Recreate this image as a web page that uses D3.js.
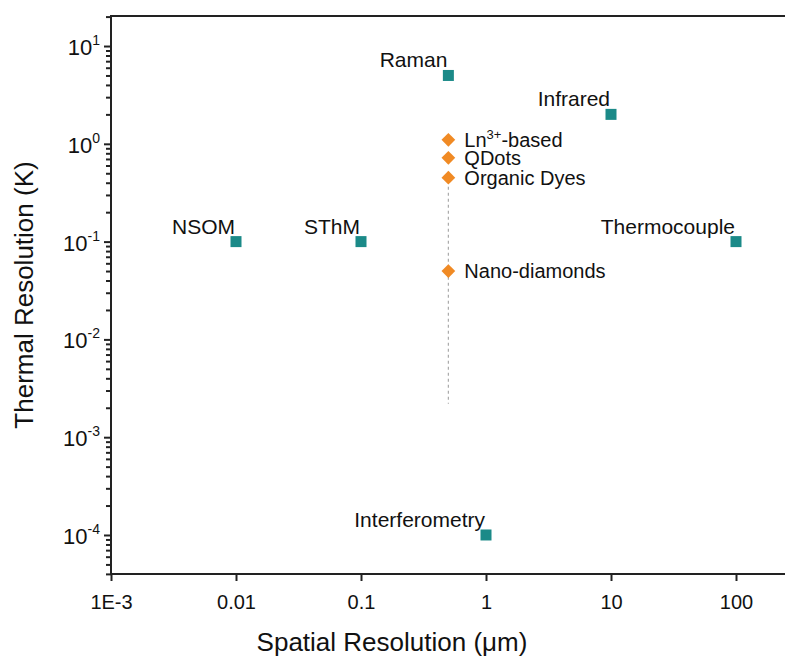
<!DOCTYPE html>
<html>
<head>
<meta charset="utf-8">
<script src="https://cdn.jsdelivr.net/npm/d3@7"></script>
<style>
  html, body { margin: 0; padding: 0; background: #fff; overflow: hidden; }
  svg { display: block; font-family: "Liberation Sans", Arial, Helvetica, sans-serif; }
</style>
</head>
<body>
<svg id="chart" width="785" height="657"></svg>
<script>
// ---- data ----
const techniques = ["Raman", "Infrared", "NSOM", "SThM", "Thermocouple", "Interferometry"];
const techSpatial = [0.5, 10, 0.01, 0.1, 100, 1];
const techThermal = [5, 2, 0.1, 0.1, 0.1, 0.0001];

const probes = ["Ln3+-based", "QDots", "Organic Dyes", "Nano-diamonds"];
const probeSpatial = [0.5, 0.5, 0.5, 0.5];
const probeThermal = [1.1, 0.72, 0.45, 0.05];

const dashSpatial = 0.5;
const dashThermalRange = [0.42, 0.0022];

const xTickValues = [0.001, 0.01, 0.1, 1, 10, 100];
const xTickLabels = ["1E-3", "0.01", "0.1", "1", "10", "100"];
const yTickExps = [1, 0, -1, -2, -3, -4];

// ---- layout ----
const svg = d3.select("#chart");
const mLeft = 111, mTop = 16, mBottom = 574;
const x = d3.scaleLog().domain([0.001, Math.pow(10, 2.392)]).range([mLeft, 785]);
const y = d3.scaleLog().domain([Math.pow(10, -4.399), Math.pow(10, 1.307)]).range([mBottom, mTop]);

const teal = "#1b8a88";
const orange = "#f08a24";
const ink = "#111";

// top border line
svg.append("line").attr("x1", mLeft).attr("x2", 800).attr("y1", mTop).attr("y2", mTop)
  .attr("stroke", "#222").attr("stroke-width", 2);

// X axis
const xAxis = d3.axisBottom(x).tickValues(xTickValues)
  .tickFormat((d, i) => xTickLabels[i]).tickSize(7).tickSizeOuter(0);
const gx = svg.append("g").attr("transform", `translate(0,${mBottom})`).call(xAxis);
gx.select(".domain").attr("stroke", "#222").attr("stroke-width", 2).attr("d", `M${mLeft},0H800`);
gx.selectAll(".tick line").attr("stroke", "#222").attr("stroke-width", 2);
gx.selectAll(".tick text").attr("font-size", 20).attr("fill", ink)
  .attr("y", 35).attr("dy", null)
  .attr("font-family", "Liberation Sans, Arial, sans-serif");

// Y axis minor ticks
const minorVals = [];
for (let e = -5; e <= 1; e++) {
  for (let m = 2; m <= 9; m++) {
    const v = m * Math.pow(10, e);
    if (v >= y.domain()[0] && v <= y.domain()[1]) minorVals.push(v);
  }
}
const yMinor = d3.axisLeft(y).tickValues(minorVals).tickFormat("").tickSize(5).tickSizeOuter(0);
const gyMinor = svg.append("g").attr("transform", `translate(${mLeft},0)`).call(yMinor);
gyMinor.select(".domain").remove();
gyMinor.selectAll(".tick line").attr("stroke", "#222").attr("stroke-width", 2);

// Y axis major
const yAxis = d3.axisLeft(y).tickValues(yTickExps.map(e => Math.pow(10, e)))
  .tickFormat("").tickSize(7).tickSizeOuter(0);
const gy = svg.append("g").attr("transform", `translate(${mLeft},0)`).call(yAxis);
gy.select(".domain").attr("stroke", "#222").attr("stroke-width", 2)
  .attr("d", `M0,${mTop - 1}V${mBottom + 1}`);
gy.selectAll(".tick line").attr("stroke", "#222").attr("stroke-width", 2);

// Y tick labels with superscripts
const yl = svg.append("g");
yTickExps.forEach(e => {
  const t = yl.append("text")
    .attr("x", 100).attr("y", y(Math.pow(10, e)) + 9)
    .attr("text-anchor", "end").attr("font-size", 22).attr("fill", ink);
  t.append("tspan").text("10");
  t.append("tspan").text(String(e)).attr("font-size", 14).attr("dy", -10);
});

// axis titles
svg.append("text").attr("x", 392).attr("y", 651).attr("text-anchor", "middle")
  .attr("font-size", 26).attr("fill", ink).text("Spatial Resolution (\u03bcm)");
svg.append("text").attr("transform", `translate(33,295) rotate(-90)`).attr("text-anchor", "middle")
  .attr("font-size", 26).attr("fill", ink).text("Thermal Resolution (K)");

// dashed line
svg.append("line")
  .attr("x1", x(dashSpatial)).attr("x2", x(dashSpatial))
  .attr("y1", y(dashThermalRange[0])).attr("y2", y(dashThermalRange[1]))
  .attr("stroke", "#aaa").attr("stroke-width", 1.2).attr("stroke-dasharray", "3,3");

// technique squares
const sq = 11;
techniques.forEach((name, i) => {
  const cx = x(techSpatial[i]), cy = y(techThermal[i]);
  svg.append("rect").attr("x", cx - sq / 2).attr("y", cy - sq / 2)
    .attr("width", sq).attr("height", sq).attr("fill", teal);
  svg.append("text").attr("x", cx - 1).attr("y", cy - 8)
    .attr("text-anchor", "end").attr("font-size", 21).attr("fill", ink).text(name);
});

// probe diamonds
const diamond = d3.symbol().type(d3.symbolDiamond2).size(120);
probes.forEach((name, i) => {
  const cx = x(probeSpatial[i]), cy = y(probeThermal[i]);
  svg.append("path").attr("d", diamond()).attr("transform", `translate(${cx},${cy})`)
    .attr("fill", orange);
  const t = svg.append("text").attr("x", cx + 16).attr("y", cy + 7)
    .attr("font-size", 20).attr("fill", ink);
  if (name === "Ln3+-based") {
    t.append("tspan").text("Ln");
    t.append("tspan").text("3+").attr("font-size", 13).attr("dy", -8);
    t.append("tspan").text("-based").attr("dy", 8);
  } else {
    t.text(name);
  }
});
</script>
</body>
</html>
